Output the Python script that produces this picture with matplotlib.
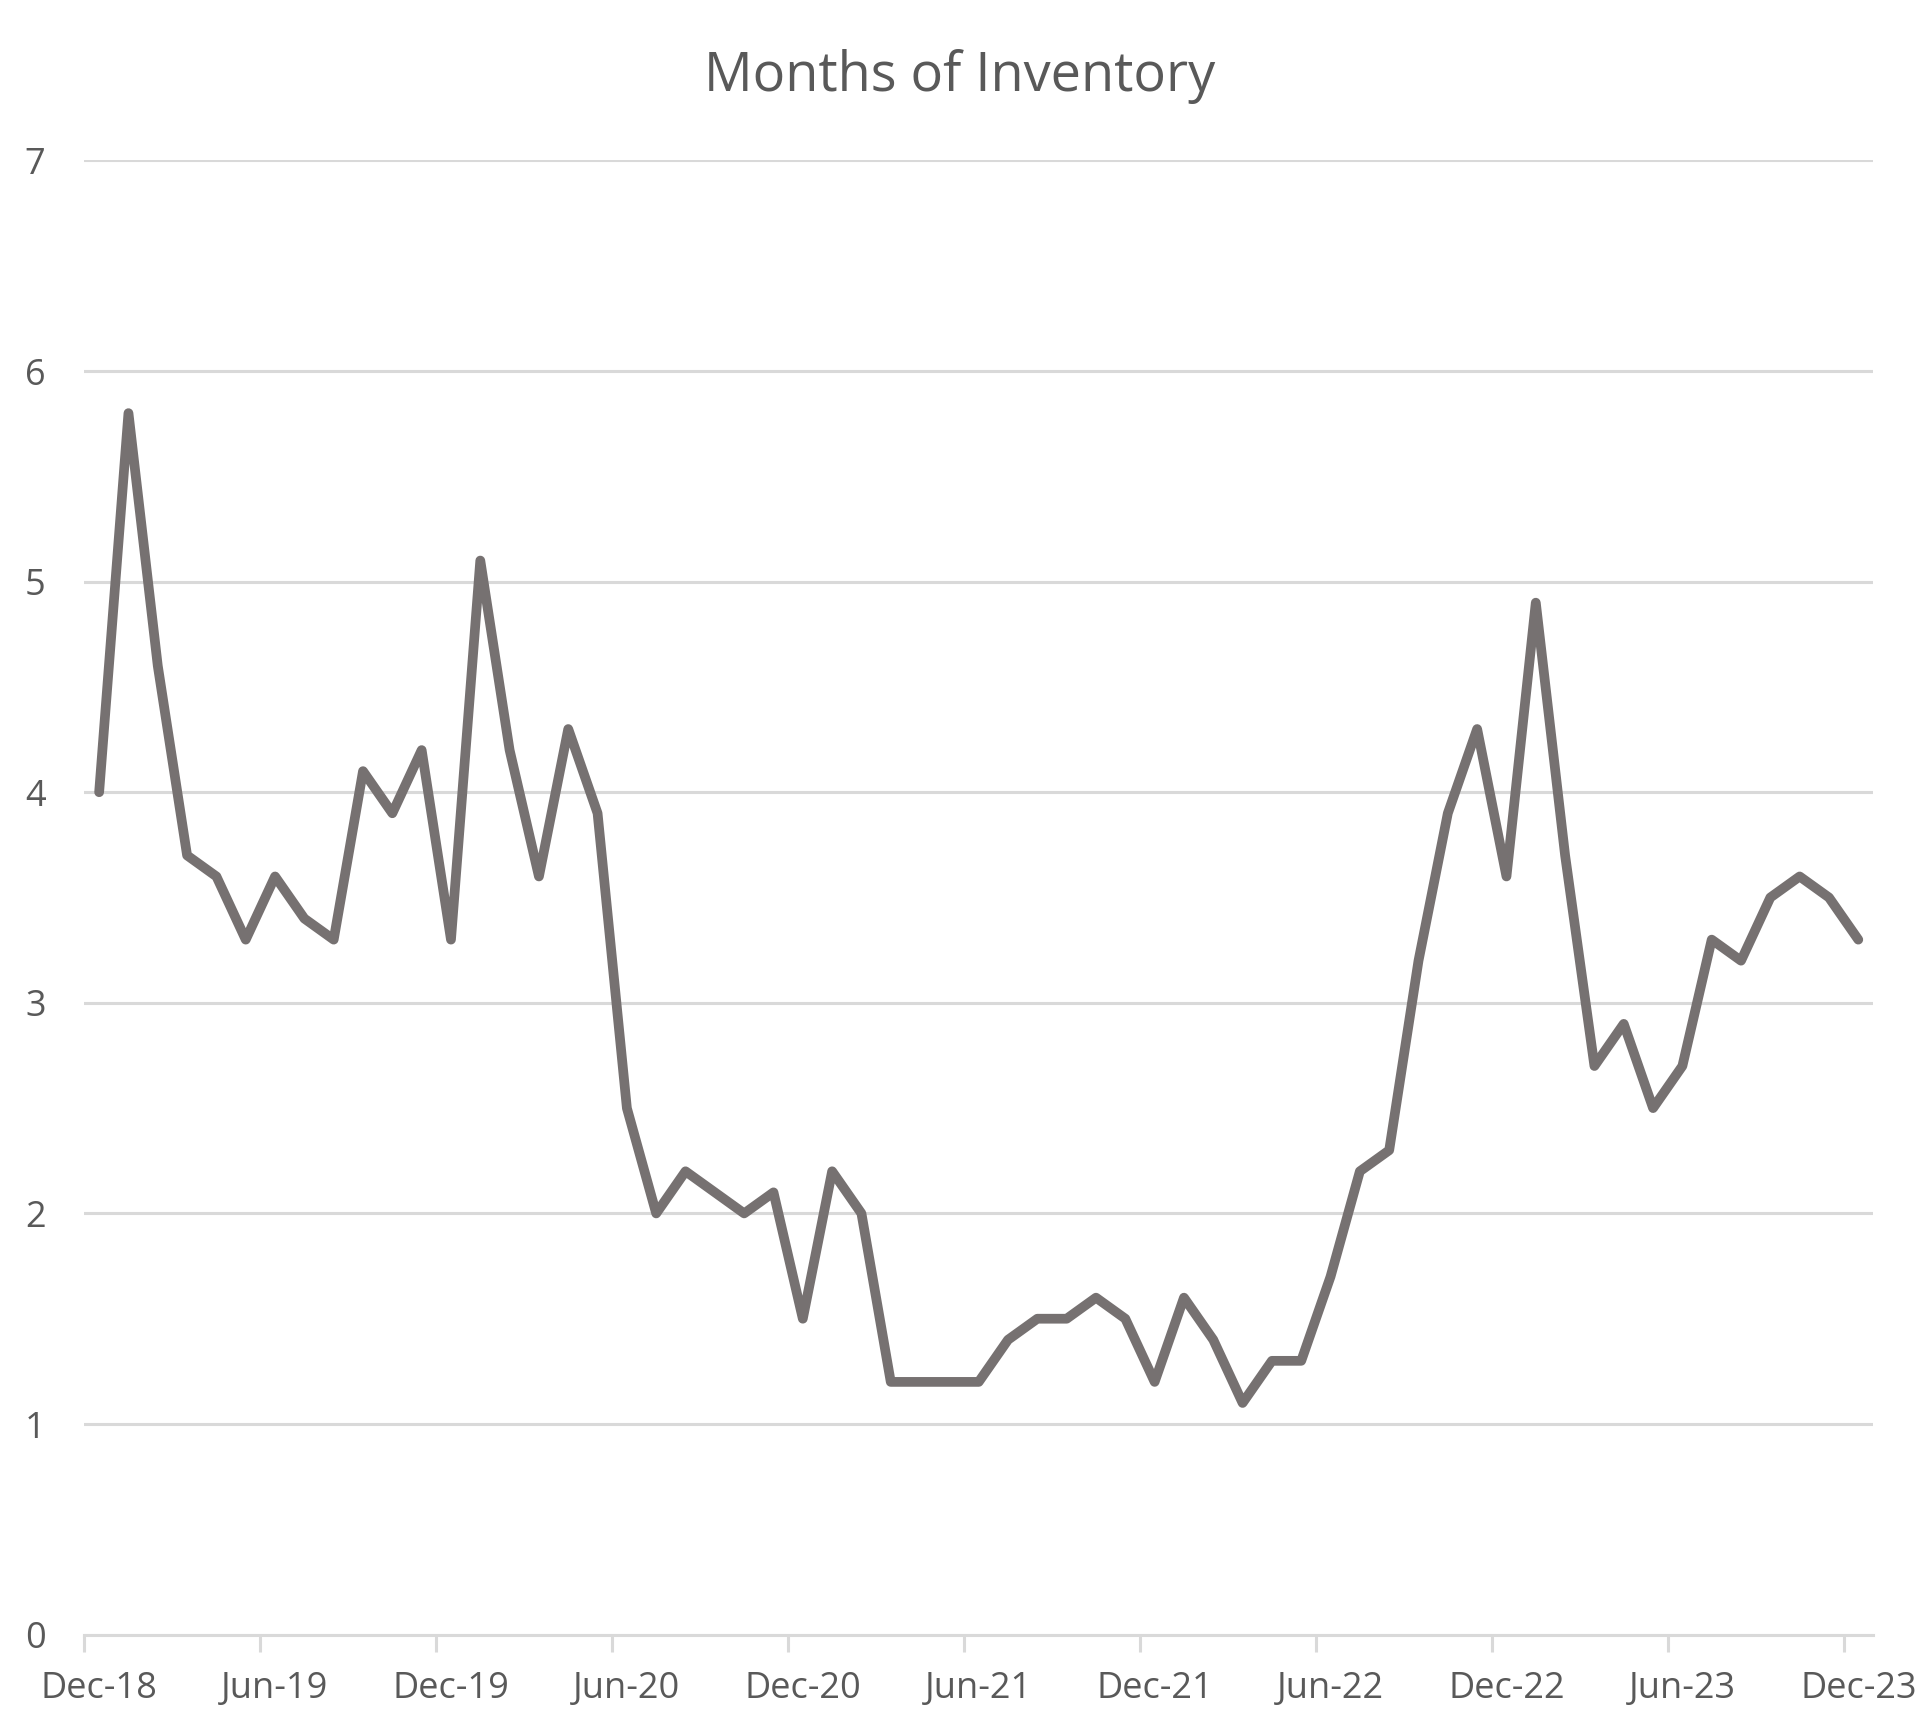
import matplotlib
matplotlib.use("Agg")
import matplotlib.pyplot as plt
import numpy as np

plt.rcParams['font.family'] = ['Open Sans', 'DejaVu Sans']

# monthly months-of-inventory, Dec-18 .. Dec-23
values = [4.0, 5.8, 4.6, 3.7, 3.6, 3.3, 3.6, 3.4, 3.3, 4.1, 3.9, 4.2,
          3.3, 5.1, 4.2, 3.6, 4.3, 3.9, 2.5, 2.0, 2.2, 2.1, 2.0, 2.1,
          1.5, 2.2, 2.0, 1.2, 1.2, 1.2, 1.2, 1.4, 1.5, 1.5, 1.6, 1.5,
          1.2, 1.6, 1.4, 1.1, 1.3, 1.3, 1.7, 2.2, 2.3, 3.2, 3.9, 4.3,
          3.6, 4.9, 3.7, 2.7, 2.9, 2.5, 2.7, 3.3, 3.2, 3.5, 3.6, 3.5,
          3.3]
tick_labels = ["Dec-18", "Jun-19", "Dec-19", "Jun-20", "Dec-20", "Jun-21",
               "Dec-21", "Jun-22", "Dec-22", "Jun-23", "Dec-23"]
y_ticks = [0, 1, 2, 3, 4, 5, 6, 7]

text_col = '#595959'
grid_col = '#D9D9D9'
line_col = '#767171'

fig = plt.figure(figsize=(9.6, 8.68), dpi=200)
ax = fig.add_axes([0.044, 0.0584, 0.9315, 0.8492])

x = np.arange(len(values))
ax.plot(x, values, color=line_col, lw=3.5, solid_capstyle='round',
        solid_joinstyle='round', zorder=3)

ax.set_xlim(-0.5, len(values) - 0.5)
ax.set_ylim(0, 7)

# tick marks at category boundaries, labels at category centres
ax.set_xticks(np.arange(-0.5, len(values) - 1, 6))
ax.set_xticklabels([])
ax.set_xticks(np.arange(0, len(values), 6), minor=True)
ax.set_xticklabels(tick_labels, minor=True)
ax.tick_params(axis='x', which='major', length=6, width=1.1, color=grid_col)
ax.tick_params(axis='x', which='minor', length=0, pad=13, labelsize=13,
               labelcolor=text_col)

ax.set_yticks(y_ticks)
ax.set_yticklabels([str(v) for v in y_ticks])
ax.tick_params(axis='y', length=0, pad=14, labelsize=13, labelcolor=text_col)

ax.grid(axis='y', color=grid_col, lw=1.1)
ax.set_axisbelow(True)
for s in ['top', 'right', 'left']:
    ax.spines[s].set_visible(False)
ax.spines['bottom'].set_color(grid_col)
ax.spines['bottom'].set_linewidth(1.1)

fig.text(0.5, 0.956, "Months of Inventory", ha='center', va='center',
         fontsize=19.5, color=text_col)

fig.savefig('out.png', dpi=200, facecolor='white')
